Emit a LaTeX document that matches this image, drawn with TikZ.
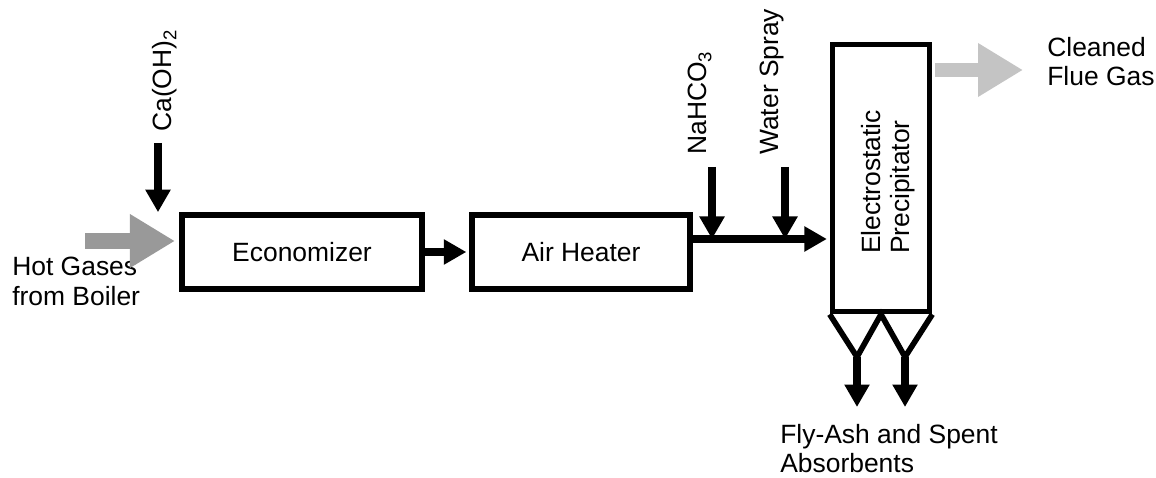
\documentclass[tikz,border=0pt]{standalone}
\usepackage{fontspec}
\setmainfont{Liberation Sans}
\usetikzlibrary{arrows.meta}
\usetikzlibrary{positioning}

\definecolor{hotgray}{gray}{0.6}
\definecolor{coolgray}{gray}{0.77}

\begin{document}
\begin{tikzpicture}[
    x=0.025cm, y=-0.025cm,
    every node/.style={font=\fontsize{18.8}{21}\selectfont},
    box/.style={rectangle, draw, line width=4pt, inner sep=0pt},
    tag/.style={inner sep=0pt, align=left},
    flow/.style={line width=5.5pt, -{Triangle[length=16pt, width=17pt]}},
    gas/.style={line width=11pt, -{Triangle[length=32pt, width=36pt]}},
  ]
  \useasboundingbox (0,0) rectangle (1156,478);

  % Process units
  \node[box, minimum width=6.0cm, minimum height=1.85cm] (econ) at (302,252) {Economizer};
  \node[box, minimum width=5.45cm, minimum height=1.85cm] (heater) at (581,252) {Air Heater};
  \node[box, minimum width=2.425cm, minimum height=6.675cm] (esp) at (881,178) {};
  \node[tag, rotate=90] (esplabel) at (888,182) {Electrostatic\\Precipitator};

  % Hoppers
  \coordinate (hopA) at (857,357);
  \coordinate (hopB) at (905,357);
  \coordinate (ashA) at (857,407);
  \coordinate (ashB) at (905,407);
  \draw[line width=4pt] (esp.south west) -- (hopA) -- (esp.south) -- (hopB) -- (esp.south east);
  \draw[flow] (hopA) -- (ashA);
  \draw[flow] (hopB) -- (ashB);

  % Gas in and out
  \node[tag, anchor=north west] (hot) at (12,257) {Hot Gases\\from Boiler};
  \coordinate (hotIn) at (85,241);
  \draw[gas, draw=hotgray, shorten >=3pt] (hotIn) -- (hotIn -| econ.west);

  \node[tag, anchor=north west] (clean) at (1047,37) {Cleaned\\Flue Gas};
  \coordinate (cleanOut) at (1023,70);
  \draw[gas, draw=coolgray, line width=10.5pt, shorten <=2pt] (esp.east |- cleanOut) -- (cleanOut);

  % Reagent feeds
  \node[tag, rotate=90, anchor=west] (caoh) at (165,132) {Ca(OH)\textsubscript{2}};
  \coordinate (caIn) at (158,143);
  \draw[flow] (caIn) -- (caIn |- econ.north);

  \draw[flow, shorten >=2pt] (econ) -- (heater);

  \coordinate (gasOut) at (690,239);
  \draw[flow, shorten >=2pt] (gasOut) -- (gasOut -| esp.west);

  \node[tag, rotate=90, anchor=west] (soda) at (700,155) {NaHCO\textsubscript{3}};
  \node[tag, rotate=90, anchor=west] (spray) at (772,155) {Water Spray};
  \coordinate (sodaIn) at (712,167);
  \coordinate (sprayIn) at (785,167);
  \draw[flow] (sodaIn) -- (sodaIn |- gasOut);
  \draw[flow] (sprayIn) -- (sprayIn |- gasOut);

  % Discharge
  \node[tag, anchor=north west] (ash) at (780,424) {Fly-Ash and Spent\\Absorbents};

\end{tikzpicture}
\end{document}
